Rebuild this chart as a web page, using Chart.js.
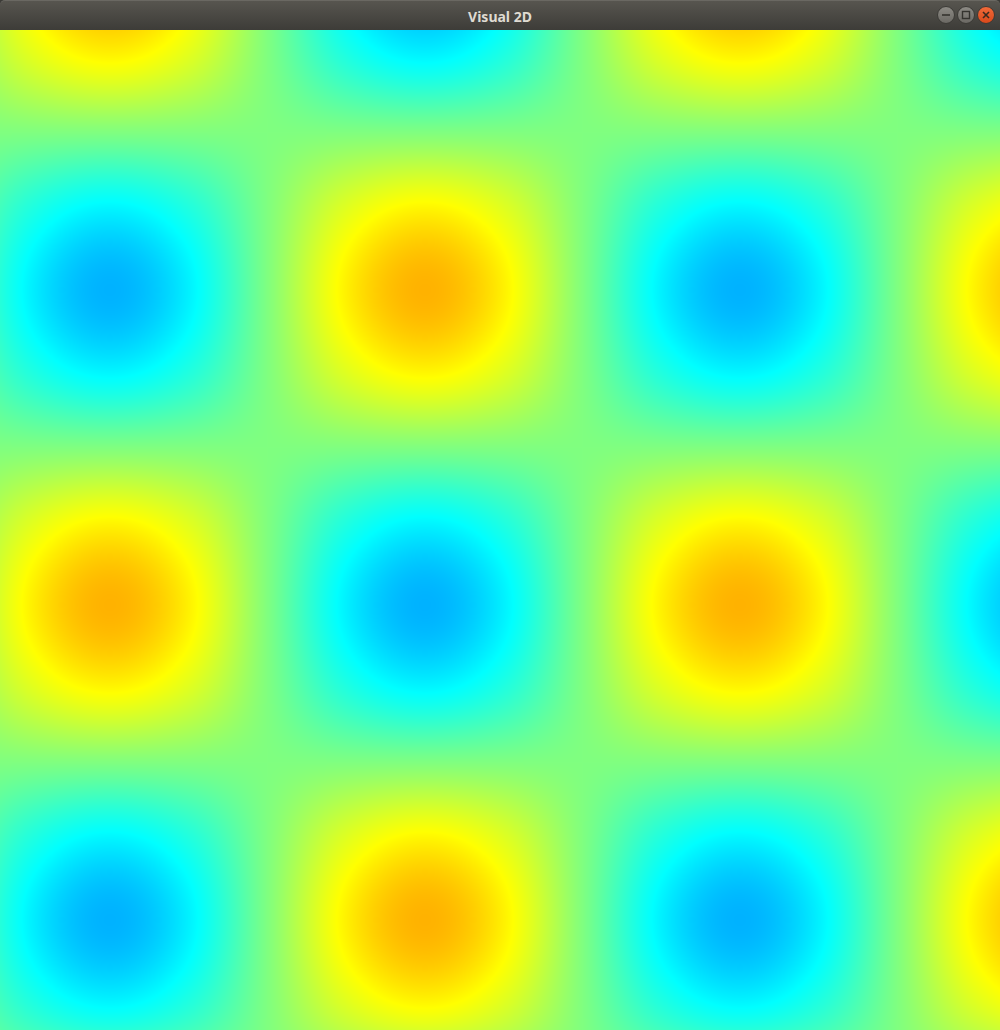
<!DOCTYPE html>
<html>
<head>
<meta charset="utf-8">
<title>Visual 2D</title>
<script src="https://cdn.jsdelivr.net/npm/chart.js@4"></script>
<style>
html,body{margin:0;padding:0;background:#3c3b37;overflow:hidden;width:1000px;height:1030px}
#title{position:relative;width:1000px;height:30px;background:linear-gradient(#57554f,#3d3c38);box-sizing:border-box;border-top:1px solid #6a6862;border-radius:5px 5px 0 0}
#title span{position:absolute;left:0;right:0;top:6px;line-height:14px;text-align:center;font:bold 14px "Noto Sans",sans-serif;color:#dfdbd2}
#btns{position:absolute;right:0;top:-1px}
#wrap{width:1000px;height:1000px}
canvas{display:block}
</style>
</head>
<body>
<div id="title"><span>Visual 2D</span>
<svg id="btns" width="70" height="30" viewBox="930 0 70 30">
 <defs>
  <linearGradient id="g1" x1="0" y1="0" x2="0" y2="1"><stop offset="0" stop-color="#8d8b85"/><stop offset="1" stop-color="#6a6863"/></linearGradient>
  <linearGradient id="g2" x1="0" y1="0" x2="0" y2="1"><stop offset="0" stop-color="#f26b3a"/><stop offset="1" stop-color="#d9481a"/></linearGradient>
 </defs>
 <circle cx="946" cy="15" r="8.5" fill="url(#g1)" stroke="#3a3935" stroke-width="1"/>
 <line x1="942" y1="15" x2="950" y2="15" stroke="#35342f" stroke-width="1.6"/>
 <circle cx="966" cy="15" r="8.5" fill="url(#g1)" stroke="#3a3935" stroke-width="1"/>
 <rect x="962.5" y="11.5" width="7" height="7" fill="none" stroke="#35342f" stroke-width="1.4"/>
 <circle cx="986" cy="15" r="8.5" fill="url(#g2)" stroke="#3a3935" stroke-width="1"/>
 <line x1="983" y1="12" x2="989" y2="18" stroke="#3a2a20" stroke-width="1.6"/>
 <line x1="989" y1="12" x2="983" y2="18" stroke="#3a2a20" stroke-width="1.6"/>
</svg>
</div>
<div id="wrap"><canvas id="c" width="1000" height="1000"></canvas></div>
<script>
// Grid node positions (data units, 0..10 across the view)
const xNodes = [-1.2625, -0.475, 0.3125, 1.1, 1.8875, 2.675, 3.4625, 4.25, 5.0375, 5.825, 6.6125, 7.4, 8.1875, 8.975, 9.7625, 10.55, 11.3375];
const yNodes = [-1.3375, -0.55, 0.2375, 1.025, 1.8125, 2.6, 3.3875, 4.175, 4.9625, 5.75, 6.5375, 7.325, 8.1125, 8.9, 9.6875, 10.475, 11.2625];
// Field values at the nodes (rows follow yNodes, columns follow xNodes)
const values = [
 [-0.5, 0, 0.5, 0.71, 0.5, 0, -0.5, -0.71, -0.5, 0, 0.5, 0.71, 0.5, 0, -0.5, -0.71, -0.5],
 [-0.71, 0, 0.71, 1, 0.71, 0, -0.71, -1, -0.71, 0, 0.71, 1, 0.71, 0, -0.71, -1, -0.71],
 [-0.5, 0, 0.5, 0.71, 0.5, 0, -0.5, -0.71, -0.5, 0, 0.5, 0.71, 0.5, 0, -0.5, -0.71, -0.5],
 [0, 0, 0, 0, 0, 0, 0, 0, 0, 0, 0, 0, 0, 0, 0, 0, 0],
 [0.5, 0, -0.5, -0.71, -0.5, 0, 0.5, 0.71, 0.5, 0, -0.5, -0.71, -0.5, 0, 0.5, 0.71, 0.5],
 [0.71, 0, -0.71, -1, -0.71, 0, 0.71, 1, 0.71, 0, -0.71, -1, -0.71, 0, 0.71, 1, 0.71],
 [0.5, 0, -0.5, -0.71, -0.5, 0, 0.5, 0.71, 0.5, 0, -0.5, -0.71, -0.5, 0, 0.5, 0.71, 0.5],
 [0, 0, 0, 0, 0, 0, 0, 0, 0, 0, 0, 0, 0, 0, 0, 0, 0],
 [-0.5, 0, 0.5, 0.71, 0.5, 0, -0.5, -0.71, -0.5, 0, 0.5, 0.71, 0.5, 0, -0.5, -0.71, -0.5],
 [-0.71, 0, 0.71, 1, 0.71, 0, -0.71, -1, -0.71, 0, 0.71, 1, 0.71, 0, -0.71, -1, -0.71],
 [-0.5, 0, 0.5, 0.71, 0.5, 0, -0.5, -0.71, -0.5, 0, 0.5, 0.71, 0.5, 0, -0.5, -0.71, -0.5],
 [0, 0, 0, 0, 0, 0, 0, 0, 0, 0, 0, 0, 0, 0, 0, 0, 0],
 [0.5, 0, -0.5, -0.71, -0.5, 0, 0.5, 0.71, 0.5, 0, -0.5, -0.71, -0.5, 0, 0.5, 0.71, 0.5],
 [0.71, 0, -0.71, -1, -0.71, 0, 0.71, 1, 0.71, 0, -0.71, -1, -0.71, 0, 0.71, 1, 0.71],
 [0.5, 0, -0.5, -0.71, -0.5, 0, 0.5, 0.71, 0.5, 0, -0.5, -0.71, -0.5, 0, 0.5, 0.71, 0.5],
 [0, 0, 0, 0, 0, 0, 0, 0, 0, 0, 0, 0, 0, 0, 0, 0, 0],
 [-0.5, 0, 0.5, 0.71, 0.5, 0, -0.5, -0.71, -0.5, 0, 0.5, 0.71, 0.5, 0, -0.5, -0.71, -0.5]
];
// Colour map
const colorStops = [-1, -0.645, 0.645, 1];
const colorRGB = [[0, 178, 255], [0, 255, 255], [255, 255, 0], [255, 178, 0]];

function locate(nodes, v) {
  let i = 0;
  while (i < nodes.length - 2 && nodes[i + 1] <= v) i++;
  return { i, t: (v - nodes[i]) / (nodes[i + 1] - nodes[i]) };
}
function crWeights(t) {
  const t2 = t * t, t3 = t2 * t;
  return [(-t3 + 2 * t2 - t) / 2, (3 * t3 - 5 * t2 + 2) / 2, (-3 * t3 + 4 * t2 + t) / 2, (t3 - t2) / 2];
}
function colorFor(v) {
  if (v <= colorStops[0]) return colorRGB[0];
  const n = colorStops.length;
  if (v >= colorStops[n - 1]) return colorRGB[n - 1];
  let k = 0;
  while (k < n - 2 && v > colorStops[k + 1]) k++;
  const f = (v - colorStops[k]) / (colorStops[k + 1] - colorStops[k]);
  const a = colorRGB[k], b = colorRGB[k + 1];
  return [a[0] + (b[0] - a[0]) * f, a[1] + (b[1] - a[1]) * f, a[2] + (b[2] - a[2]) * f];
}

const heatmap = {
  id: 'heatmap',
  beforeDatasetsDraw(chart) {
    const { ctx, chartArea: a, scales: { x, y } } = chart;
    const w = Math.round(a.right - a.left), h = Math.round(a.bottom - a.top);
    const off = document.createElement('canvas');
    off.width = w; off.height = h;
    const octx = off.getContext('2d');
    const img = octx.createImageData(w, h);
    const nx = xNodes.length, ny = yNodes.length;
    const cI = [], cW = [], rI = [], rW = [];
    for (let px = 0; px < w; px++) {
      const L = locate(xNodes, x.getValueForPixel(a.left + px + 0.5));
      cI.push(L.i); cW.push(crWeights(L.t));
    }
    for (let py = 0; py < h; py++) {
      const L = locate(yNodes, y.getValueForPixel(a.top + py + 0.5));
      rI.push(L.i); rW.push(crWeights(L.t));
    }
    const cl = (k, n) => Math.max(0, Math.min(n - 1, k));
    let p = 0;
    for (let py = 0; py < h; py++) {
      const ri = rI[py], rw = rW[py];
      for (let px = 0; px < w; px++) {
        const ci = cI[px], cw = cW[px];
        let v = 0;
        for (let m = 0; m < 4; m++) {
          const row = values[cl(ri - 1 + m, ny)];
          let s = 0;
          for (let n = 0; n < 4; n++) s += cw[n] * row[cl(ci - 1 + n, nx)];
          v += rw[m] * s;
        }
        const c = colorFor(v);
        img.data[p++] = c[0]; img.data[p++] = c[1]; img.data[p++] = c[2]; img.data[p++] = 255;
      }
    }
    octx.putImageData(img, 0, 0);
    ctx.drawImage(off, a.left, a.top);
  }
};

new Chart(document.getElementById('c'), {
  type: 'scatter',
  data: { datasets: [{ data: [], pointRadius: 0 }] },
  options: {
    responsive: false,
    animation: false,
    devicePixelRatio: 1,
    layout: { padding: 0 },
    plugins: { legend: { display: false }, tooltip: { enabled: false }, title: { display: false } },
    scales: {
      x: { type: 'linear', min: 0, max: 10, display: false },
      y: { type: 'linear', min: 0, max: 10, reverse: true, display: false }
    }
  },
  plugins: [heatmap]
});
</script>
</body>
</html>
